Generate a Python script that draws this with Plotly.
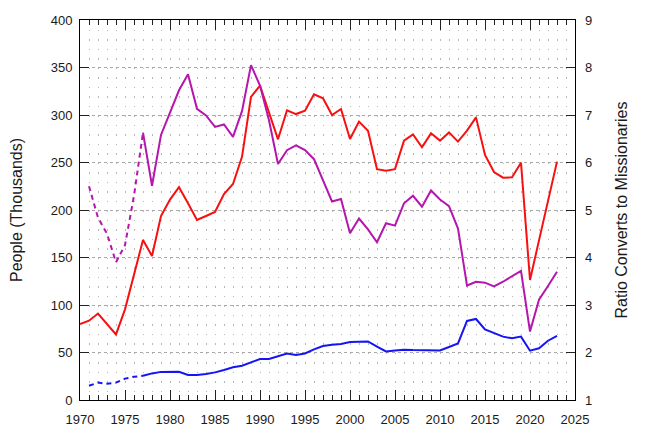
import plotly.graph_objects as go

years = list(range(1970, 2024))

converts = [80, 83.5, 91, 80, 69, 95.4, 133, 168.4, 151.6, 193.7,
            211, 224, 207, 189.5, 193.7, 197.9, 216.8, 227.4, 256, 319,
            331, 301.8, 274.4, 305, 301, 304.5, 321.7, 317.5, 300, 306.3,
            274.7, 293, 283.5, 243, 241.4, 243, 273, 279.6, 266, 280.7,
            273, 281.7, 272, 283.5, 297.5, 258, 240, 234, 234.4, 249.8,
            126.3, 168, 210, 250.9]

years_m = list(range(1971, 2024))

missionaries = [15, 18.3, 17.2, 18.3, 22.5, 24.5, 25.5, 28, 29.6,
                30, 29.8, 26.3, 26.3, 27.4, 29.1, 31.6, 34.4, 36.1, 39.5,
                43.2, 43.2, 46.3, 49, 47.4, 49, 53.3, 56.8, 58.2, 58.9,
                61, 61, 61.6, 56.3, 51.1, 52, 53, 52.6, 52.5, 51.7,
                52.2, 55.8, 59.5, 83.2, 85.3, 74.4, 70.2, 66.7, 64.9, 66.7,
                51.9, 54.4, 62.4, 67.4]

ratio = [5.50, 4.84, 4.50, 3.90, 4.26, 5.30, 6.63, 5.51, 6.58,
         7.05, 7.52, 7.86, 7.13, 6.99, 6.75, 6.80, 6.54, 7.08, 8.05,
         7.62, 6.89, 5.97, 6.26, 6.36, 6.26, 6.07, 5.63, 5.18, 5.23,
         4.51, 4.82, 4.59, 4.32, 4.72, 4.67, 5.14, 5.30, 5.07, 5.41,
         5.22, 5.08, 4.61, 3.41, 3.49, 3.47, 3.39, 3.49, 3.61, 3.72,
         2.44, 3.11, 3.40, 3.70]

split_year = 1977

RED = "#f81010"
BLUE = "#1414f5"
PURPLE = "#b516ad"
FONT = "Liberation Sans, Arial, sans-serif"
TICK = "#222222"

early_idx = [i for i, y in enumerate(years_m) if y <= split_year]
late_idx = [i for i, y in enumerate(years_m) if y >= split_year]

fig = go.Figure()

# invisible carrier trace so the top (mirror) x axis with its ticks is drawn
fig.add_trace(go.Scatter(x=[1970, 2025], y=[None, None], xaxis="x2", mode="lines",
                         showlegend=False, hoverinfo="skip"))

fig.add_trace(go.Scatter(x=years, y=converts, mode="lines",
                         line=dict(color=RED, width=2), showlegend=False))
fig.add_trace(go.Scatter(x=[years_m[i] for i in early_idx], y=[missionaries[i] for i in early_idx],
                         mode="lines", line=dict(color=BLUE, width=2, dash="5px,4px"), showlegend=False))
fig.add_trace(go.Scatter(x=[years_m[i] for i in late_idx], y=[missionaries[i] for i in late_idx],
                         mode="lines", line=dict(color=BLUE, width=2), showlegend=False))
fig.add_trace(go.Scatter(x=[years_m[i] for i in early_idx], y=[ratio[i] for i in early_idx],
                         mode="lines", yaxis="y2", line=dict(color=PURPLE, width=2, dash="5px,4px"), showlegend=False))
fig.add_trace(go.Scatter(x=[years_m[i] for i in late_idx], y=[ratio[i] for i in late_idx],
                         mode="lines", yaxis="y2", line=dict(color=PURPLE, width=2), showlegend=False))

# the page body has an 8px margin, so the figure is sized to fit the window from (8, 8)
fig.update_layout(
    width=652, height=432,
    margin=dict(l=72, r=84.5, t=12, b=40, autoexpand=False),
    paper_bgcolor="white", plot_bgcolor="white",
    font=dict(family=FONT, size=13, color="#1a1a1a"),
    xaxis=dict(
        range=[1970, 2025], dtick=5, tick0=1970, automargin=False,
        showline=True, linecolor="black", linewidth=1, mirror=True,
        ticks="inside", ticklen=10, tickcolor=TICK, tickwidth=1,
        showgrid=True, gridcolor="#b8b8b8", gridwidth=1, griddash="1.5px,8px",
        zeroline=False, ticklabelstandoff=7,
        minor=dict(dtick=1, ticks="inside", ticklen=5, tickcolor=TICK, tickwidth=1,
                   showgrid=True, gridcolor="#b8b8b8", gridwidth=1, griddash="1.5px,8px"),
    ),
    xaxis2=dict(
        range=[1970, 2025], dtick=5, tick0=1970, overlaying="x", side="top",
        automargin=False, showline=False, showticklabels=False,
        ticks="inside", ticklen=10, tickcolor=TICK, tickwidth=1,
        showgrid=False, zeroline=False,
        minor=dict(dtick=1, ticks="inside", ticklen=5, tickcolor=TICK, tickwidth=1, showgrid=False),
    ),
    yaxis=dict(
        range=[0, 400], dtick=50, tick0=0, automargin=False,
        showline=True, linecolor="black", linewidth=1, mirror=True,
        ticks="inside", ticklen=9, tickcolor=TICK, tickwidth=1,
        showgrid=True, gridcolor="#a8a8a8", gridwidth=1, griddash="3px,3px",
        zeroline=False, ticklabelstandoff=4,
        title=dict(text="People (Thousands)", standoff=24),
    ),
    yaxis2=dict(
        range=[1, 9], dtick=1, tick0=1, overlaying="y", side="right", automargin=False,
        showline=False, ticks="inside", ticklen=9, tickcolor=TICK, tickwidth=1,
        showgrid=False, zeroline=False, ticklabelstandoff=9,
        title=dict(text="Ratio Converts to Missionaries", standoff=24),
    ),
)

fig.write_html("out.html")
